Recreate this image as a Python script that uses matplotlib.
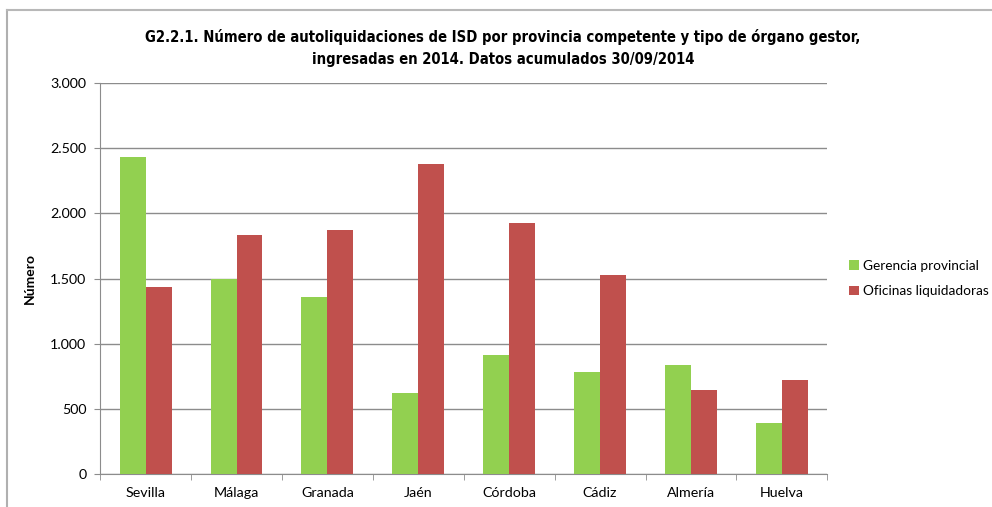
import numpy as np
import matplotlib.pyplot as plt
from matplotlib.lines import Line2D
from matplotlib.ticker import FuncFormatter

provincias = ['Sevilla', 'Málaga', 'Granada', 'Jaén', 'Córdoba', 'Cádiz', 'Almería', 'Huelva']
gerencia = [2437, 1500, 1362, 619, 910, 780, 838, 394]
oficinas = [1432, 1838, 1870, 2376, 1927, 1526, 642, 723]
series_names = ['Gerencia provincial', 'Oficinas liquidadoras']
titulo = ('G2.2.1. Número de autoliquidaciones de ISD por provincia competente y tipo de órgano gestor,\n'
          'ingresadas en 2014. Datos acumulados 30/09/2014')

plt.rcParams['font.family'] = ['Lato', 'DejaVu Sans']

fig = plt.figure(figsize=(9.92, 5.07), dpi=100)
ax = fig.add_axes([0.101, 0.065, 0.733, 0.771])

x = np.arange(len(provincias))
w = 1 / 3.5
ax.bar(x - w / 2, gerencia, w, color='#92D050', label=series_names[0], zorder=3)
ax.bar(x + w / 2, oficinas, w, color='#C0504D', label=series_names[1], zorder=3)

ax.set_xlim(-0.5, len(provincias) - 0.5)
ax.set_ylim(0, 3000)
ax.set_yticks(np.arange(0, 3001, 500))
ax.yaxis.set_major_formatter(FuncFormatter(lambda v, p: f'{int(v):,}'.replace(',', '.')))
ax.grid(axis='y', color='#8c8c8c', linewidth=1, zorder=0)

ax.set_xticks(x)
ax.set_xticklabels(provincias, fontsize=10.3)
ax.set_xticks(np.arange(-0.5, len(provincias)), minor=True)
ax.tick_params(axis='x', which='major', length=0, pad=9)
ax.tick_params(axis='x', which='minor', length=4, color='#8c8c8c')
ax.tick_params(axis='y', length=4, color='#8c8c8c', labelsize=10.3, pad=6)

for s in ['top', 'right']:
    ax.spines[s].set_visible(False)
for s in ['left', 'bottom']:
    ax.spines[s].set_color('#8c8c8c')

ax.set_ylabel('Número', fontsize=10, fontweight='bold', labelpad=10)

fig.text(0.507, 0.906, titulo, ha='center', va='center', fontsize=10.6, fontweight='bold',
         family='DejaVu Sans', fontstretch='condensed', linespacing=1.6)

ax.legend(loc='center left', bbox_to_anchor=(1.0, 0.5), frameon=False, fontsize=9.8,
          handlelength=0.7, handleheight=0.7, handletextpad=0.3, labelspacing=1.0,
          borderaxespad=1.2)

# chart frame
fig.add_artist(Line2D([0.007, 0.007], [0, 0.981], color='#b0b0b0', linewidth=1.5))
fig.add_artist(Line2D([0.007, 1.0], [0.981, 0.981], color='#b8b8b8', linewidth=1.5))

fig.savefig('out.png', dpi=100)
